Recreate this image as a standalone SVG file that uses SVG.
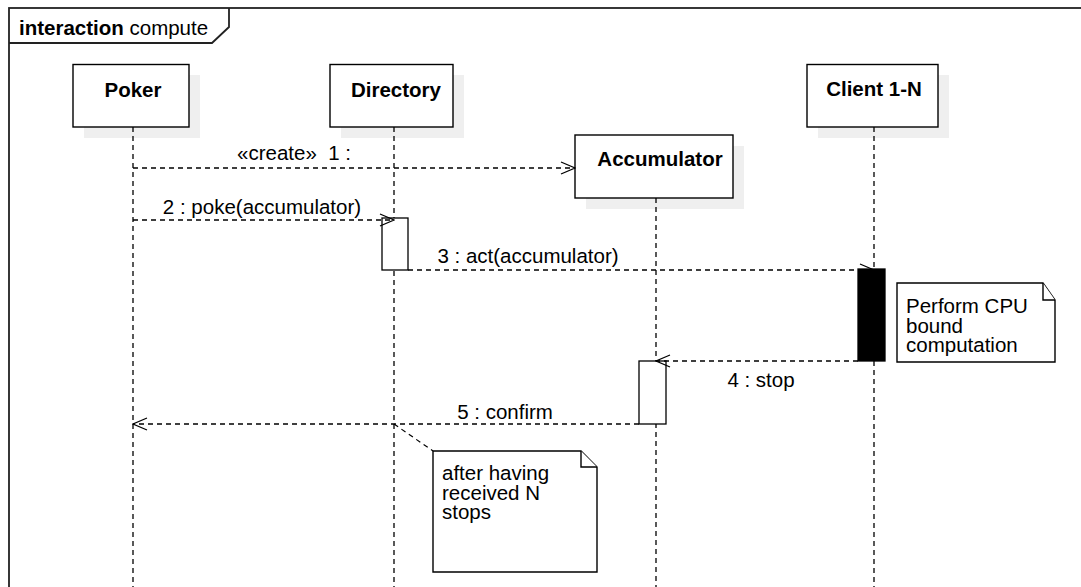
<svg xmlns="http://www.w3.org/2000/svg" width="1081" height="587" viewBox="0 0 1081 587">
  <style>
    text { font-family: "Liberation Sans", Arial, sans-serif; font-size: 20.5px; fill: #000; }
    .title { font-weight: bold; }
    .shadow { fill: #efefef; stroke: none; }
    .box { fill: #fff; stroke: #000; stroke-width: 1.4; }
    .life { stroke: #000; stroke-width: 1.3; stroke-dasharray: 5 4; fill: none; }
    .act { fill: #fff; stroke: #000; stroke-width: 1.3; }
    .act-busy { fill: #000; stroke: #000; stroke-width: 1.3; }
    .msg { stroke: #000; stroke-width: 1.3; stroke-dasharray: 5 4; fill: none; marker-end: url(#open); }
    .anchor { stroke: #000; stroke-width: 1.2; stroke-dasharray: 5 4; fill: none; }
    .note { fill: #fff; stroke: #000; stroke-width: 1.4; stroke-linejoin: miter; }
    .frame { fill: none; stroke: #222; stroke-width: 1.8; }
  </style>
  <defs>
    <marker id="open" markerUnits="userSpaceOnUse" viewBox="0 0 16 14" markerWidth="16" markerHeight="14" refX="15" refY="7" orient="auto">
      <path d="M1,1 L15,7 L1,13" fill="none" stroke="#000" stroke-width="1.3" stroke-dasharray="none"/>
    </marker>
  </defs>

  <rect width="1081" height="587" fill="#fff"/>

  <!-- interaction frame -->
  <g id="frame">
    <rect class="frame" x="9" y="8" width="1100" height="620"/>
    <path class="frame" d="M9,43 H212 L229,27 V8"/>
    <text x="19" y="35"><tspan class="title">interaction</tspan> compute</text>
  </g>

  <!-- lifeline: Poker -->
  <g id="poker">
    <rect class="shadow" x="84" y="75" width="116" height="63"/>
    <rect class="box" x="73" y="64.5" width="116" height="62.5"/>
    <text class="title" x="133" y="97" text-anchor="middle">Poker</text>
    <line class="life" x1="133" y1="127" x2="133" y2="587"/>
  </g>

  <!-- lifeline: Directory -->
  <g id="directory">
    <rect class="shadow" x="341" y="75" width="123" height="63"/>
    <rect class="box" x="330" y="64.5" width="123" height="62.5"/>
    <text class="title" x="396" y="97" text-anchor="middle">Directory</text>
    <line class="life" x1="394" y1="127" x2="394" y2="587"/>
    <rect class="act" x="382" y="218" width="26" height="52"/>
  </g>

  <!-- lifeline: Accumulator (created by Poker) -->
  <g id="accumulator">
    <rect class="shadow" x="586" y="146" width="158" height="63"/>
    <rect class="box" x="575" y="135" width="158" height="63"/>
    <text class="title" x="660" y="166" text-anchor="middle">Accumulator</text>
    <line class="life" x1="656" y1="198" x2="656" y2="587"/>
    <rect class="act" x="639" y="361" width="27" height="63"/>
  </g>

  <!-- lifeline: Client 1-N -->
  <g id="client">
    <rect class="shadow" x="818" y="75" width="131" height="63"/>
    <rect class="box" x="807" y="64.5" width="131" height="62.5"/>
    <text class="title" x="874" y="96" text-anchor="middle">Client 1-N</text>
    <line class="life" x1="874" y1="127" x2="874" y2="587"/>
  </g>

  <!-- messages -->
  <g id="connectors">
    <line class="msg" x1="133" y1="168" x2="575" y2="168"/>
    <text x="294" y="160" text-anchor="middle">«create»&#160; 1 :</text>

    <line class="msg" x1="133" y1="220" x2="394" y2="220"/>
    <text x="262" y="214" text-anchor="middle">2 : poke(accumulator)</text>

    <line class="msg" x1="408" y1="270" x2="874" y2="270"/>
    <text x="528" y="263" text-anchor="middle">3 : act(accumulator)</text>

    <line class="msg" x1="858" y1="361" x2="656" y2="361"/>
    <text x="761" y="387" text-anchor="middle">4 : stop</text>

    <line class="msg" x1="639" y1="424" x2="133" y2="424"/>
    <text x="505" y="419" text-anchor="middle">5 : confirm</text>

    <line class="anchor" x1="394" y1="424" x2="433" y2="451"/>
  </g>

  <!-- busy client activation -->
  <g id="client-activation">
    <rect class="act-busy" x="858" y="269" width="27" height="92"/>
  </g>

  <!-- note: CPU work -->
  <g id="note-cpu">
    <path class="note" d="M897,283 H1043 L1055,300 V362 H897 Z"/>
    <path class="note" d="M1043,283 V300 H1055" fill="none"/>
    <text x="906" y="313">Perform CPU</text>
    <text x="906" y="332.5">bound</text>
    <text x="906" y="352">computation</text>
  </g>

  <!-- note: confirm condition -->
  <g id="note-confirm">
    <path class="note" d="M433,451 H581 L597,467 V572 H433 Z"/>
    <path class="note" d="M581,451 V467 H597" fill="none"/>
    <text x="442" y="480">after having</text>
    <text x="442" y="499.5">received N</text>
    <text x="442" y="519">stops</text>
  </g>
</svg>
